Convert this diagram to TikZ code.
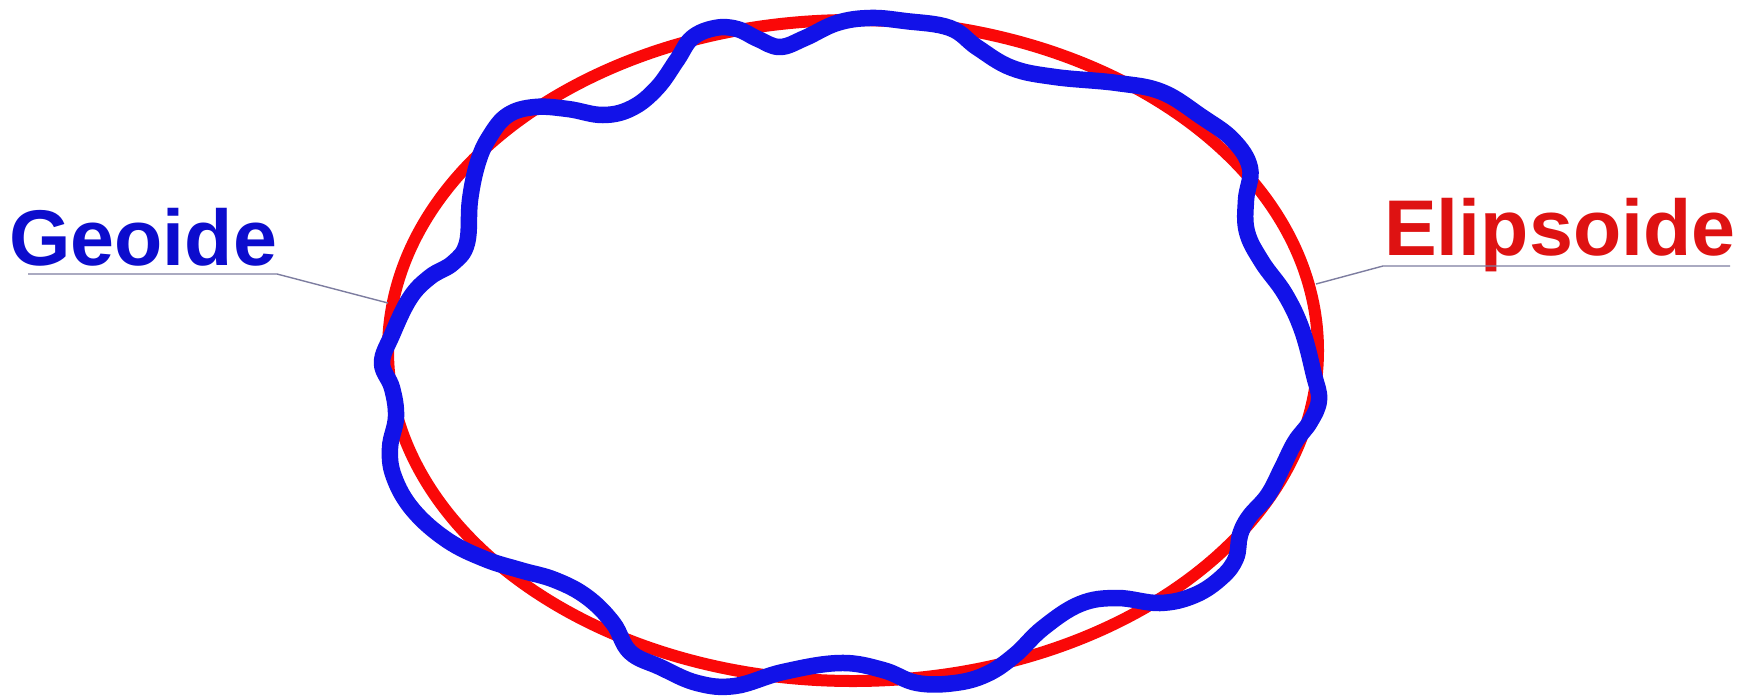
\documentclass[tikz,border=0pt]{standalone}
\usepackage{fontspec}
\setmainfont{Liberation Sans}
\definecolor{geoblue}{RGB}{18,18,232}
\definecolor{ellred}{RGB}{250,8,8}
\definecolor{geotext}{RGB}{12,12,205}
\definecolor{elltext}{RGB}{222,18,18}
\definecolor{leadergray}{RGB}{125,125,160}
\tikzset{
  labeltext/.style={anchor=base west, inner sep=0pt, font=\bfseries\fontsize{79}{90}\selectfont},
  leader/.style={draw=leadergray, line width=1.4pt},
  ellipsoid/.style={draw=ellred, line width=12pt},
  geoid/.style={draw=geoblue, line width=16.5pt, line join=round}
}
\begin{document}
\begin{tikzpicture}[x=1pt,y=-1pt]
\useasboundingbox[fill=white] (0,0) rectangle (1762,697);
% ellipsoid
\draw[ellipsoid] (853,350.5) ellipse [x radius=465pt, y radius=330.5pt];
% geoid
\draw[geoid] plot[smooth cycle, tension=0.65] coordinates {
(382,363) (392,335) (410,298) (430,277) (453,263) (467,243) (470,200)
(478,162) (490,136) (508,115) (535,107) (568,109) (603,115) (632,108)
(657,88) (677,60) (692,38) (715,28) (737,29) (758,39) (780,47) (805,38)
(837,23) (870,18) (905,21) (950,28) (978,48) (1012,68) (1055,77)
(1117,83) (1162,92) (1202,117) (1233,140) (1250,168) (1246,200)
(1247,232) (1262,262) (1285,294) (1302,330) (1314,375) (1319,400)
(1310,422) (1295,442) (1282,468) (1268,495) (1249,517) (1240,535)
(1236,558) (1222,577) (1195,595) (1160,603) (1117,598) (1080,604)
(1043,628) (1015,655) (987,674) (955,683) (917,683) (883,670)
(840,663) (783,672) (735,686) (697,683) (660,667) (630,652) (613,623)
(587,597) (555,580) (520,570) (485,559) (447,540) (413,510) (394,477)
(390,448) (396,417) (392,388)};
% labels
\node[labeltext, text=geotext] (geo) at (9,265) {Geoide};
\node[labeltext, text=elltext] (ell) at (1384,255) {Elipsoide};
% leader lines
\coordinate (geoA) at (28,274);
\coordinate (geoB) at (277,274);
\coordinate (geoC) at (388,303);
\coordinate (ellA) at (1730,266);
\coordinate (ellB) at (1383,266);
\coordinate (ellC) at (1316,284);
\draw[leader] (geoA) -- (geoB) -- (geoC);
\draw[leader] (ellA) -- (ellB) -- (ellC);
\end{tikzpicture}
\end{document}
